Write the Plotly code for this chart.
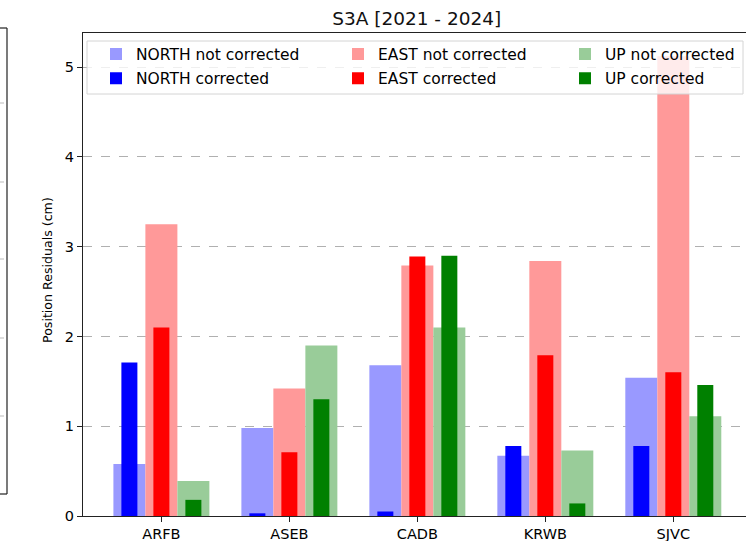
import plotly.graph_objects as go

stations = ["ARFB", "ASEB", "CADB", "KRWB", "SJVC"]
north_nc = [0.58, 0.98, 1.68, 0.67, 1.54]
north_c = [1.71, 0.03, 0.05, 0.78, 0.78]
east_nc = [3.25, 1.42, 2.79, 2.84, 5.12]
east_c = [2.10, 0.71, 2.89, 1.79, 1.60]
up_nc = [0.39, 1.90, 2.10, 0.73, 1.11]
up_c = [0.18, 1.30, 2.90, 0.14, 1.46]

W, H = 746, 541
L, R, T, B = 83, 0, 33, 25
FONT = "DejaVu Sans"

fig = go.Figure()

series = [
    ("NORTH not corrected", north_nc, "rgb(153,153,255)", 0.25, -0.375, "legend"),
    ("NORTH corrected", north_c, "rgb(0,0,255)", 0.125, -0.3125, "legend"),
    ("EAST not corrected", east_nc, "rgb(255,153,153)", 0.25, -0.125, "legend2"),
    ("EAST corrected", east_c, "rgb(255,0,0)", 0.125, -0.0625, "legend2"),
    ("UP not corrected", up_nc, "rgb(153,204,153)", 0.25, 0.125, "legend3"),
    ("UP corrected", up_c, "rgb(0,128,0)", 0.125, 0.1875, "legend3"),
]
for name, vals, col, w, off, leg in series:
    fig.add_trace(go.Bar(
        x=stations, y=vals, name=name,
        marker=dict(color=col, line=dict(width=0)),
        width=w, offset=off, legend=leg, legendgroup=name))

def px_x(p):
    return (p - L) / (W - L - R)

def px_y(p):
    return (H - B - p) / (H - T - B)

leg_common = dict(font=dict(family=FONT, size=15.5, color="black"),
                  bgcolor="rgba(0,0,0,0)", borderwidth=0,
                  traceorder="grouped", tracegroupgap=1,
                  xref="container", yref="container",
                  xanchor="left", yanchor="top")
ly = 1 - 37.5 / H
fig.update_layout(
    legend=dict(x=96 / W, y=ly, **leg_common),
    legend2=dict(x=338 / W, y=ly, **leg_common),
    legend3=dict(x=565 / W, y=ly, **leg_common),
)

shapes = [
    # legend frame
    dict(type="rect", xref="paper", yref="paper",
         x0=px_x(87), x1=px_x(743), y0=px_y(94), y1=px_y(41),
         line=dict(color="#d4d4d4", width=1),
         fillcolor="rgba(255,255,255,0.8)", layer="above"),
    # edge of a neighbouring figure on the left
    dict(type="line", xref="paper", yref="paper",
         x0=px_x(7), x1=px_x(7), y0=px_y(28), y1=px_y(494),
         line=dict(color="#222222", width=1.2)),
    dict(type="line", xref="paper", yref="paper",
         x0=px_x(0), x1=px_x(7), y0=px_y(28), y1=px_y(28),
         line=dict(color="#222222", width=1.2)),
    dict(type="line", xref="paper", yref="paper",
         x0=px_x(0), x1=px_x(7), y0=px_y(494), y1=px_y(494),
         line=dict(color="#222222", width=1.2)),
]
for ty in [103, 182, 259, 338, 416]:
    shapes.append(dict(type="line", xref="paper", yref="paper",
                       x0=px_x(0), x1=px_x(4), y0=px_y(ty), y1=px_y(ty),
                       line=dict(color="#bbbbbb", width=1)))

fig.update_layout(
    width=W, height=H,
    margin=dict(l=L, r=R, t=T, b=B, autoexpand=False),
    paper_bgcolor="white", plot_bgcolor="white",
    barmode="overlay",
    font=dict(family=FONT, color="black"),
    title=dict(text="S3A [2021 - 2024]", x=416.7 / W, y=1 - 18.3 / H,
               xanchor="center", yanchor="middle", xref="container",
               yref="container", font=dict(size=18.5, family=FONT, color="#111")),
    shapes=shapes,
    annotations=[dict(text="Position Residuals (cm)", textangle=-90,
                      xref="paper", yref="paper", x=px_x(47), y=px_y(270),
                      xanchor="center", yanchor="middle", showarrow=False,
                      font=dict(size=12.6, family=FONT, color="black"))],
)

fig.update_xaxes(
    type="category", range=[-0.6125, 4.568],
    showline=True, linecolor="#222", linewidth=1, mirror=True,
    ticks="outside", ticklen=5, tickcolor="#222", tickwidth=1,
    tickfont=dict(size=14.5, family=FONT, color="black"),
    showgrid=False, zeroline=False,
)
fig.update_yaxes(
    range=[0, 5.38], tickvals=[0, 1, 2, 3, 4, 5],
    showline=True, linecolor="#222", linewidth=1,
    ticks="outside", ticklen=5, tickcolor="#222", tickwidth=1,
    tickfont=dict(size=14.5, family=FONT, color="black"),
    showgrid=True, gridcolor="#b0b0b0", griddash="dash", gridwidth=1,
    zeroline=False,
)

fig.write_html("out.html", config={"displayModeBar": False},
               post_script="document.body.style.margin='0';")
